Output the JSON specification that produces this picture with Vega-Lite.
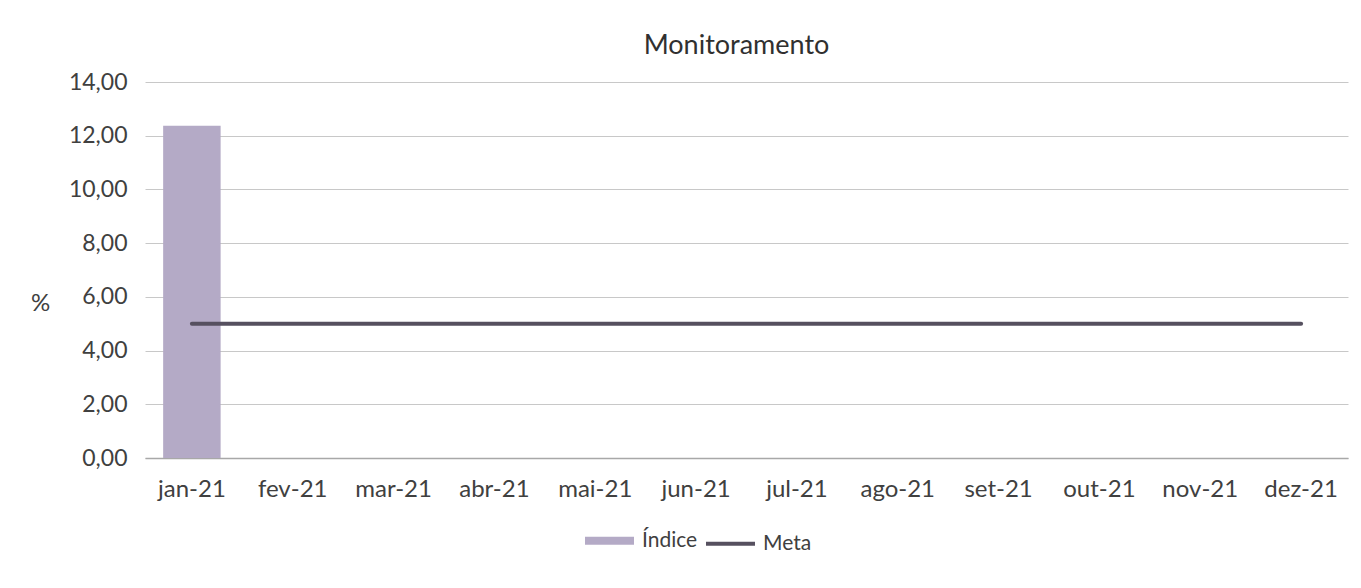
{
  "$schema": "https://vega.github.io/schema/vega-lite/v6.json",
  "width": 1203,
  "height": 376,
  "autosize": {"type": "none"},
  "padding": {"left": 145, "top": 82, "right": 13, "bottom": 130},
  "background": "white",
  "title": {"text": "Monitoramento", "fontSize": 27, "font": "Lato", "fontWeight": "normal", "color": "#303030", "anchor": "middle", "offset": 11, "dx": -10},
  "data": {"values": [
    {"mes": "jan-21", "indice": 12.37, "meta": 5},
    {"mes": "fev-21", "indice": null, "meta": 5},
    {"mes": "mar-21", "indice": null, "meta": 5},
    {"mes": "abr-21", "indice": null, "meta": 5},
    {"mes": "mai-21", "indice": null, "meta": 5},
    {"mes": "jun-21", "indice": null, "meta": 5},
    {"mes": "jul-21", "indice": null, "meta": 5},
    {"mes": "ago-21", "indice": null, "meta": 5},
    {"mes": "set-21", "indice": null, "meta": 5},
    {"mes": "out-21", "indice": null, "meta": 5},
    {"mes": "nov-21", "indice": null, "meta": 5},
    {"mes": "dez-21", "indice": null, "meta": 5}
  ]},
  "encoding": {
    "x": {"field": "mes", "type": "nominal", "sort": null,
      "scale": {"paddingInner": 0.43, "paddingOuter": 0.18},
      "axis": {"title": null, "labelAngle": 0, "labelFontSize": 24, "labelFont": "Lato", "labelColor": "#404040", "labelPadding": 19, "ticks": false, "domainColor": "#a8a8a8", "domainWidth": 1.5}}
  },
  "layer": [
    {
      "mark": {"type": "bar"},
      "encoding": {
        "y": {"field": "indice", "type": "quantitative",
          "scale": {"domain": [0, 14]},
          "axis": {"title": "%", "titleAngle": 0, "titleX": -105, "titleY": 221, "titleBaseline": "middle", "titleAlign": "center", "titleFontSize": 24, "titleFont": "Lato", "titleFontWeight": "normal", "titleColor": "#404040",
            "values": [0, 2, 4, 6, 8, 10, 12, 14],
            "labelExpr": "replace(format(datum.value, '.2f'), '.', ',')",
            "labelFontSize": 23, "labelFont": "Lato", "labelColor": "#404040", "labelPadding": 18,
            "ticks": false, "domain": false, "gridColor": "#c8c8c8", "gridWidth": 1}},
        "color": {"datum": "Índice", "type": "nominal",
          "scale": {"domain": ["Índice", "Meta"], "range": ["#b4aac6", "#56505f"]},
          "legend": {"title": null, "orient": "none", "legendX": 454, "legendY": 448, "direction": "horizontal",
            "symbolType": "stroke", "symbolSize": 2400, "symbolStrokeWidth": 6, "labelFontSize": 21, "labelFont": "Lato", "labelColor": "#404040", "columnPadding": 0, "labelOffset": 22,
            "encode": {"symbols": {"update": {
              "strokeWidth": {"signal": "datum.value === 'Índice' ? 8 : 4"}}}}}}
      }
    },
    {
      "mark": {"type": "line", "strokeWidth": 4, "strokeCap": "round"},
      "encoding": {
        "y": {"field": "meta", "type": "quantitative"},
        "color": {"datum": "Meta", "type": "nominal"}
      }
    }
  ],
  "config": {"view": {"stroke": null}}
}
